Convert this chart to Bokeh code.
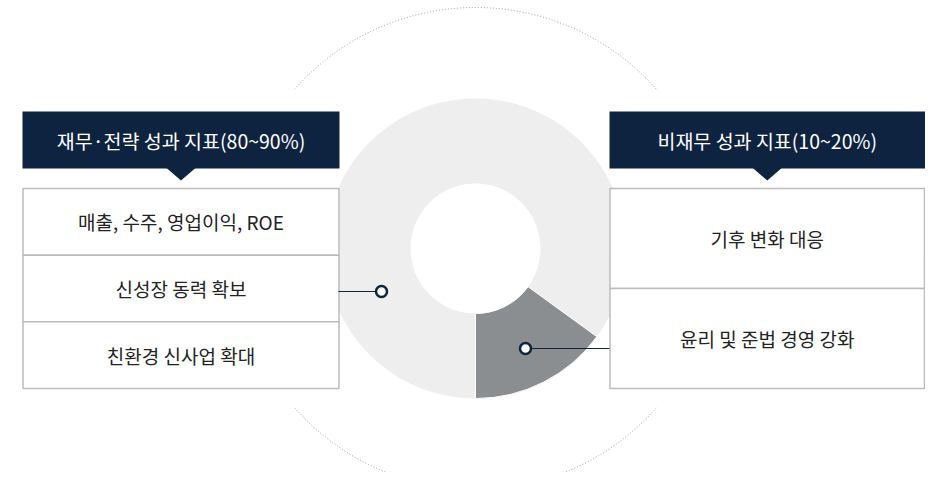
import numpy as np
from bokeh.plotting import figure
from bokeh.models import Range1d
from bokeh.core.properties import value
from bokeh.embed import file_html
from bokeh.resources import INLINE

# ---- data ----
segment_names = ["재무·전략 성과 지표", "비재무 성과 지표"]
segment_shares = [85, 15]
left_header = "재무·전략 성과 지표(80~90%)"
left_items = ["매출, 수주, 영업이익, ROE", "신성장 동력 확보", "친환경 신사업 확대"]
right_header = "비재무 성과 지표(10~20%)"
right_items = ["기후 변화 대응", "윤리 및 준법 경영 강화"]

NAVY = "#0e2340"
LIGHT = "#eeeeee"
DARK = "#8b8e91"
BORDER = "#bcbcbc"
FONT = value("Noto Sans CJK KR")

W, H = 925, 472
p = figure(width=W, height=H, output_backend="svg", toolbar_location=None,
           x_range=Range1d(0, W), y_range=Range1d(0, H), min_border=0)
p.axis.visible = False
p.grid.visible = False
p.outline_line_color = None
p.background_fill_color = "white"
p.border_fill_color = "white"

def Y(py):  # image pixel y -> data y
    return H - py

cx, cy = 475, Y(248)
r_out, r_in = 150, 65

# dotted outer circle (top and bottom arcs)
R = 241
p.arc(x=[cx, cx], y=[cy, cy], radius=R, start_angle=[np.deg2rad(41.4), np.deg2rad(221.4)],
      end_angle=[np.deg2rad(138.6), np.deg2rad(318.6)], line_color="#9a9a9a",
      line_width=1, line_dash="1 2")

# donut
total = sum(segment_shares)
dark_span = 360 * segment_shares[1] / total
light_span = 360 * segment_shares[0] / total
p.annular_wedge(x=cx, y=cy, inner_radius=r_in, outer_radius=r_out,
                start_angle=np.deg2rad(-90 + dark_span), end_angle=np.deg2rad(-90 + dark_span + light_span),
                fill_color=LIGHT, line_color=None)
p.annular_wedge(x=cx, y=cy, inner_radius=r_in, outer_radius=r_out,
                start_angle=np.deg2rad(-90), end_angle=np.deg2rad(-90 + dark_span),
                fill_color=DARK, line_color="white", line_width=1)

def panel(x0, x1, header, items):
    p.quad(left=x0, right=x1, top=Y(111), bottom=Y(168), fill_color=NAVY, line_color=None)
    mx = (x0 + x1) / 2
    p.patch(x=[mx - 14.5, mx + 14.5, mx], y=[Y(167.5), Y(167.5), Y(180)], fill_color=NAVY, line_color=None)
    p.text(x=[mx], y=[Y(139.5)], text=[header], text_color="white", text_font=FONT,
           text_font_size="19.5px", text_align="center", text_baseline="middle")
    top, bot = 188, 388
    n = len(items)
    h = (bot - top) / n
    tops = [top + i * h for i in range(n)]
    p.quad(left=[x0 + 0.5] * n, right=[x1 - 0.5] * n, top=[Y(t) for t in tops],
           bottom=[Y(t + h) for t in tops], fill_color="white", line_color=BORDER, line_width=1.5)
    p.text(x=[mx] * n, y=[Y(t + h / 2) for t in tops], text=items, text_color="#222222",
           text_font=FONT, text_font_size="19px", text_align="center", text_baseline="middle")

panel(22, 339, left_header, left_items)
panel(609, 924.5, right_header, right_items)

# connectors
p.line(x=[338, 381], y=[Y(291), Y(291)], line_color=NAVY, line_width=1)
p.line(x=[525, 609], y=[Y(348), Y(348)], line_color=NAVY, line_width=1)
p.scatter(x=[381, 525], y=[Y(291), Y(348)], size=11, marker="circle", fill_color="white",
          line_color=NAVY, line_width=2.5)

open("out.html", "w").write(file_html(p, INLINE))
